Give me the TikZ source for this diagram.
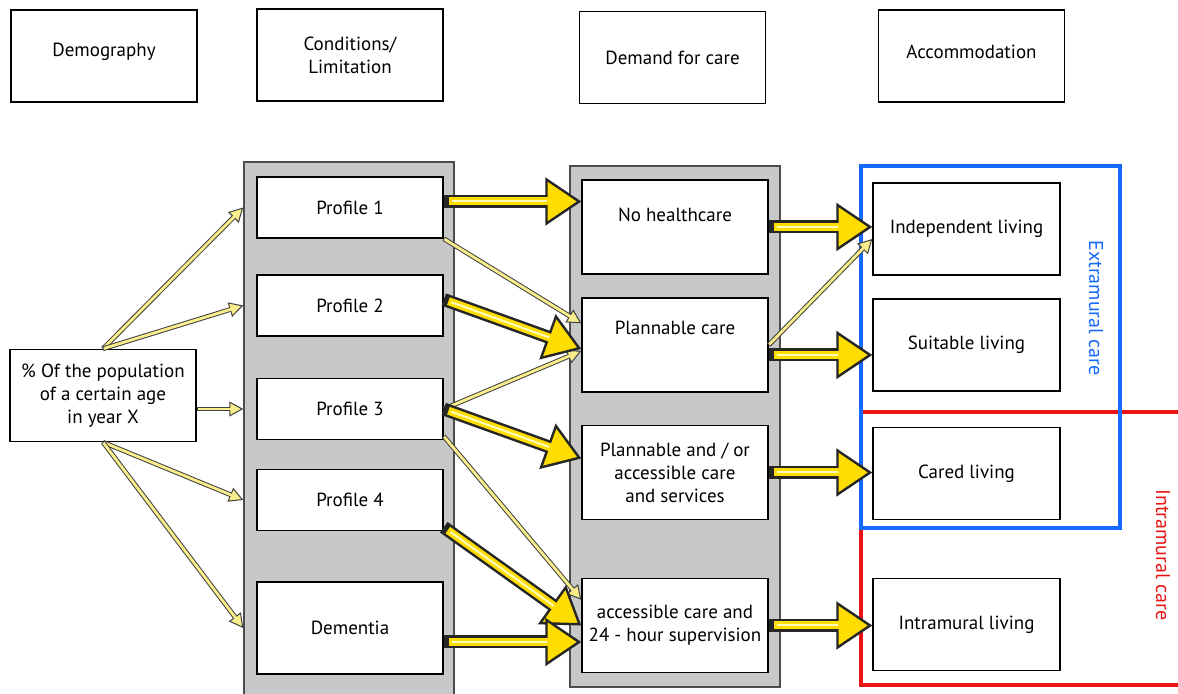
\documentclass[tikz,border=0pt]{standalone}
\usepackage{fontspec}
\setmainfont{PT Sans}
\usepackage{xcolor}
\usepackage{tikz}
\usetikzlibrary{arrows.meta}

\definecolor{arrowyellow}{RGB}{255,221,0}
\definecolor{paleyellow}{RGB}{250,238,140}
\definecolor{colgray}{RGB}{200,200,200}
\definecolor{extblue}{RGB}{20,105,250}
\definecolor{intred}{RGB}{235,20,20}

\tikzset{
    box/.style={draw, line width=0.75pt, fill=white, align=center, font=\fontsize{9.5}{11.5}\selectfont,
        minimum width=93pt, minimum height=46pt, inner sep=1pt},
    lowbox/.style={box, minimum height=30.5pt},
    column/.style={draw=black!70, line width=0.75pt, fill=colgray, minimum width=105pt},
    bigarrow/.style={line width=6.5pt, draw=black!85, line cap=butt,
        -{Triangle[length=18pt, width=24pt, line width=1.2pt, fill=arrowyellow]},
        postaction={draw=arrowyellow, line width=4pt, -, shorten <=2.5pt, shorten >=16.5pt},
        postaction={draw=yellow!25, line width=1pt, -, shorten <=4pt, shorten >=17pt}},
    smallarrow/.style={line width=2.4pt, draw=black!75,
        -{Triangle[length=7pt, width=7.5pt, line width=0.5pt, fill=paleyellow]},
        postaction={draw=paleyellow, line width=1.4pt, -, shorten <=0.4pt, shorten >=6pt}}
}

\begin{document}
\begin{tikzpicture}[x=0.5pt, y=-0.5pt]
        \useasboundingbox (0,0) rectangle (1178,694);

        \node[box] (demo) at (104,56) {\raisebox{6pt}{Demography}};
        \node[box] (cond) at (350,55) {Conditions/\\Limitation};
        \node[box] (dem) at (672.5,57.5) {Demand for care};
        \node[box] (acc) at (971.5,56) {\raisebox{4pt}{Accommodation}};

        \node[column, minimum height=269pt] (col1) at (349,431) {};
        \node[column, minimum height=260.5pt] (col2) at (675,426.5) {};

        \node[box] (pop) at (103,395.5) {\% Of the population\\of a certain age\\in year X};

        \node[lowbox] (p1) at (350,207.5) {Profile 1};
        \node[lowbox] (p2) at (350,305.5) {Profile 2};
        \node[lowbox] (p3) at (350,409) {Profile 3};
        \node[lowbox] (p4) at (350,500) {Profile 4};
        \node[box] (dm) at (350,628) {Dementia};

        \node[box, minimum height=47pt] (nh) at (675,227) {\raisebox{12pt}{No healthcare}};
        \node[box, minimum height=47pt] (pc) at (675,345) {\raisebox{17pt}{Plannable care}};
        \node[box, minimum height=47pt] (pa) at (675,472.5) {Plannable and / or\\accessible care\\and services};
        \node[box, minimum height=47pt] (ac) at (675,625.5) {accessible care and\\24 - hour supervision};

        \draw[intred, line width=2pt] (1180,412) -- (861,412) -- (861,685) -- (1180,685);
        \draw[extblue, line width=2pt] (861,166) rectangle (1120,528);

        \node[box, minimum width=93.5pt] (il) at (966.5,229) {Independent living};
        \node[box, minimum width=93.5pt] (sl) at (966.5,345) {Suitable living};
        \node[box, minimum width=93.5pt] (cl) at (966.5,473.5) {Cared living};
        \node[box, minimum width=93.5pt] (im) at (966.5,624.5) {Intramural living};

        \node[rotate=-90, text=extblue, font=\fontsize{10}{12}\selectfont] (ext) at (1096,308) {Extramural care};
        \node[rotate=-90, text=intred, font=\fontsize{10}{12}\selectfont] (int) at (1163,555) {Intramural care};

        \draw[smallarrow] (pop.north) -- (p1.west -| col1.west);
        \draw[smallarrow] (pop.north) -- (p2.west -| col1.west);
        \draw[smallarrow] (pop.east |- p3.west) -- (p3.west -| col1.west);
        \draw[smallarrow] (pop.south) -- (p4.west -| col1.west);
        \draw[smallarrow] (pop.south) -- (dm.west -| col1.west);

        \draw[smallarrow] (p1.south east) -- ([yshift=-13pt]pc.north west);
        \draw[smallarrow] (p3.east) -- ([yshift=-3pt]pc.west);
        \draw[smallarrow] ([yshift=2pt]p3.south east) -- ([yshift=-11pt]ac.north west);
        \draw[smallarrow] (pc.east) -- ([yshift=-5pt]il.west);

        \coordinate (d5) at ([yshift=-7pt]dm.east);
        \coordinate (c7) at ([yshift=-5pt]pc.east);
        \draw[bigarrow] ([yshift=3pt]p1.east) -- ([yshift=3pt]p1.east -| nh.west);
        \draw[bigarrow] ([yshift=3pt]p2.east) -- ([yshift=-2pt]pc.west);
        \draw[bigarrow] (p3.east) -- ([yshift=7pt]pa.west);
        \draw[bigarrow] ([yshift=2pt]p4.south east) -- (ac.west);
        \draw[bigarrow] (d5) -- (d5 -| ac.west);
        \draw[bigarrow] (nh.east) -- (nh.east -| il.west);
        \draw[bigarrow] (c7) -- (c7 -| sl.west);
        \draw[bigarrow] (pa.east) -- (pa.east -| cl.west);
        \draw[bigarrow] (ac.east) -- (ac.east -| im.west);
\end{tikzpicture}
\end{document}
